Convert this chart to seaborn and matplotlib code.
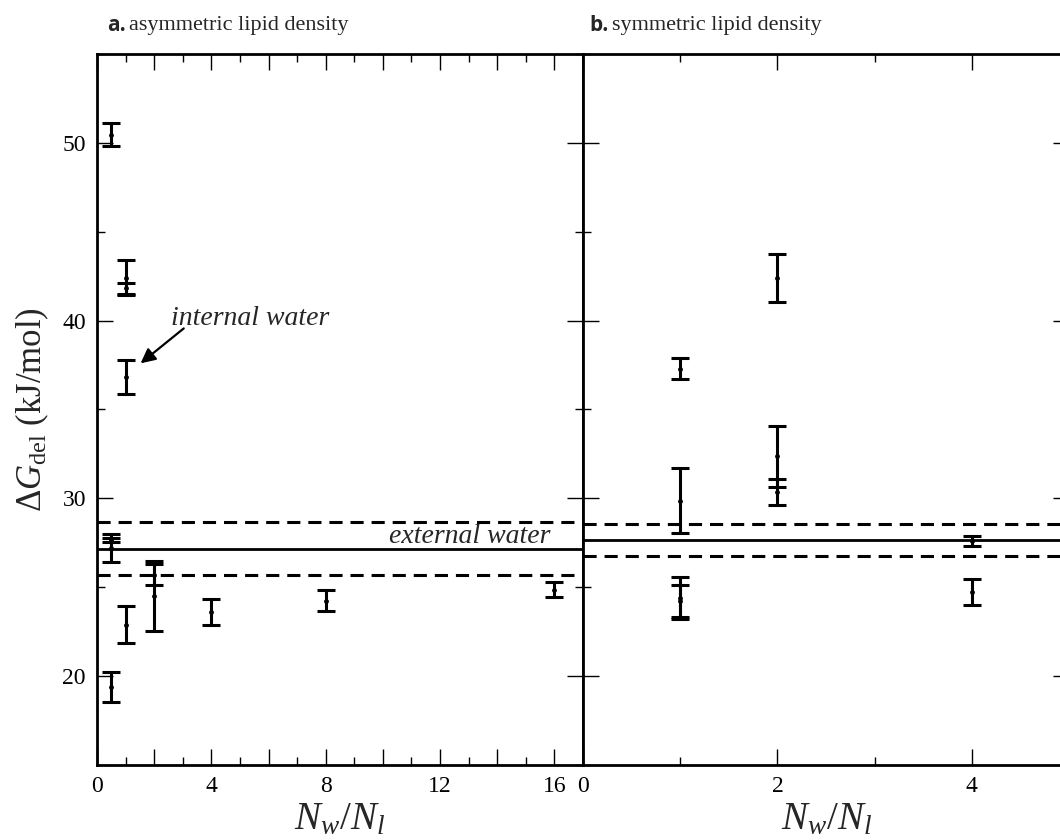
import numpy as np
import pandas as pd
import matplotlib
matplotlib.use("Agg")
import matplotlib.pyplot as plt
from matplotlib.ticker import MultipleLocator, FuncFormatter
import seaborn as sns

# ---- data: panel a (asymmetric lipid density) ----
a_x = [0.5, 1, 1, 1, 0.5, 0.5, 1, 0.5, 2, 2, 4, 8, 16]
a_y = [50.47, 42.42, 41.82, 36.85, 27.21, 27.65, 22.89, 19.38, 24.51, 25.71, 23.62, 24.25, 24.87]
a_err = [0.66, 1.00, 0.31, 0.95, 0.81, 0.13, 1.03, 0.84, 1.95, 0.57, 0.73, 0.61, 0.43]
a_ext_mean = 27.17
a_ext_err = 1.50

# ---- data: panel b (symmetric lipid density) ----
b_x = [2, 1, 2, 2, 1, 4, 1, 1, 4]
b_y = [42.38, 37.29, 32.36, 30.36, 29.87, 27.62, 24.41, 24.21, 24.74]
b_err = [1.35, 0.59, 1.72, 0.73, 1.83, 0.29, 1.17, 0.90, 0.75]
b_ext_mean = 27.68
b_ext_err = 0.90

titles = ["asymmetric lipid density", "symmetric lipid density"]
panel_tags = ["a.", "b."]

sns.set_theme(style="ticks")
plt.rcParams["font.family"] = ["Liberation Serif", "DejaVu Serif"]
plt.rcParams["mathtext.fontset"] = "custom"
plt.rcParams["mathtext.rm"] = "Liberation Serif"
plt.rcParams["mathtext.it"] = "Liberation Serif:italic"
plt.rcParams["mathtext.bf"] = "Liberation Serif:bold"

fig = plt.figure(figsize=(10.6, 8.4), dpi=100)
ax_a = fig.add_axes([0.0915, 0.0893, 0.4585, 0.8464])
ax_b = fig.add_axes([0.5500, 0.0893, 0.4585, 0.8464])

def draw_panel(ax, xs, ys, errs, mean, err, xlim):
    df = pd.DataFrame({"x": xs, "y": ys, "err": errs})
    ax.errorbar(df["x"], df["y"], yerr=df["err"], fmt="none", ecolor="black",
                elinewidth=2.2, capsize=6.4, capthick=2.2, zorder=3)
    sns.scatterplot(data=df, x="x", y="y", ax=ax, color="black", s=12,
                    edgecolor="black", linewidth=0, zorder=4, legend=False)
    ax.axhline(mean, color="black", lw=2.0, zorder=2)
    for v in (mean - err, mean + err):
        ax.axhline(v, color="black", lw=2.2, ls=(0, (4.3, 2.6)), zorder=2)
    ax.set_xlim(*xlim)
    ax.set_ylim(15, 55)
    ax.set_xlabel(r"$N_w/N_l$", fontsize=28, labelpad=3)
    ax.set_ylabel("")
    ax.yaxis.set_major_locator(MultipleLocator(10))
    ax.yaxis.set_minor_locator(MultipleLocator(5))
    ax.xaxis.set_major_locator(MultipleLocator(2))
    ax.xaxis.set_minor_locator(MultipleLocator(1))
    ax.tick_params(which="both", direction="in", top=True, right=True,
                   width=1.0, colors="black", labelsize=17, pad=8)
    ax.tick_params(which="major", length=11.5)
    ax.tick_params(which="minor", length=5.8)
    for s in ax.spines.values():
        s.set_linewidth(2.0)
        s.set_color("black")
    ax.grid(False)

draw_panel(ax_a, a_x, a_y, a_err, a_ext_mean, a_ext_err, (0, 17))
draw_panel(ax_b, b_x, b_y, b_err, b_ext_mean, b_ext_err, (0, 5))

ax_a.xaxis.set_major_formatter(FuncFormatter(lambda v, p: f"{int(v)}" if int(round(v)) % 4 == 0 and v <= 16 else ""))
ax_b.xaxis.set_major_formatter(FuncFormatter(lambda v, p: f"{int(v)}"))
ax_b.tick_params(labelleft=False)
ax_a.set_ylabel(r"$\Delta G_{\rm del}$ (kJ/mol)", fontsize=25, labelpad=8)

# annotations
ax_a.text(2.59, 39.76, "internal water", fontsize=20, style="italic", va="baseline", ha="left")
ax_a.annotate("", xy=(1.45, 37.5), xytext=(3.11, 39.66),
              arrowprops=dict(arrowstyle="-|>", color="black", lw=1.6, mutation_scale=22))
ax_a.text(15.87, 27.49, "external water", fontsize=20, style="italic", va="baseline", ha="right")

# panel titles
for x0, tag, title in [(0.101, panel_tags[0], titles[0]), (0.556, panel_tags[1], titles[1])]:
    fig.text(x0, 0.970, tag, fontsize=15, fontweight="bold", family="Open Sans", va="center")
    fig.text(x0 + 0.021, 0.970, title, fontsize=16, va="center")

fig.savefig("out.png", dpi=100)
